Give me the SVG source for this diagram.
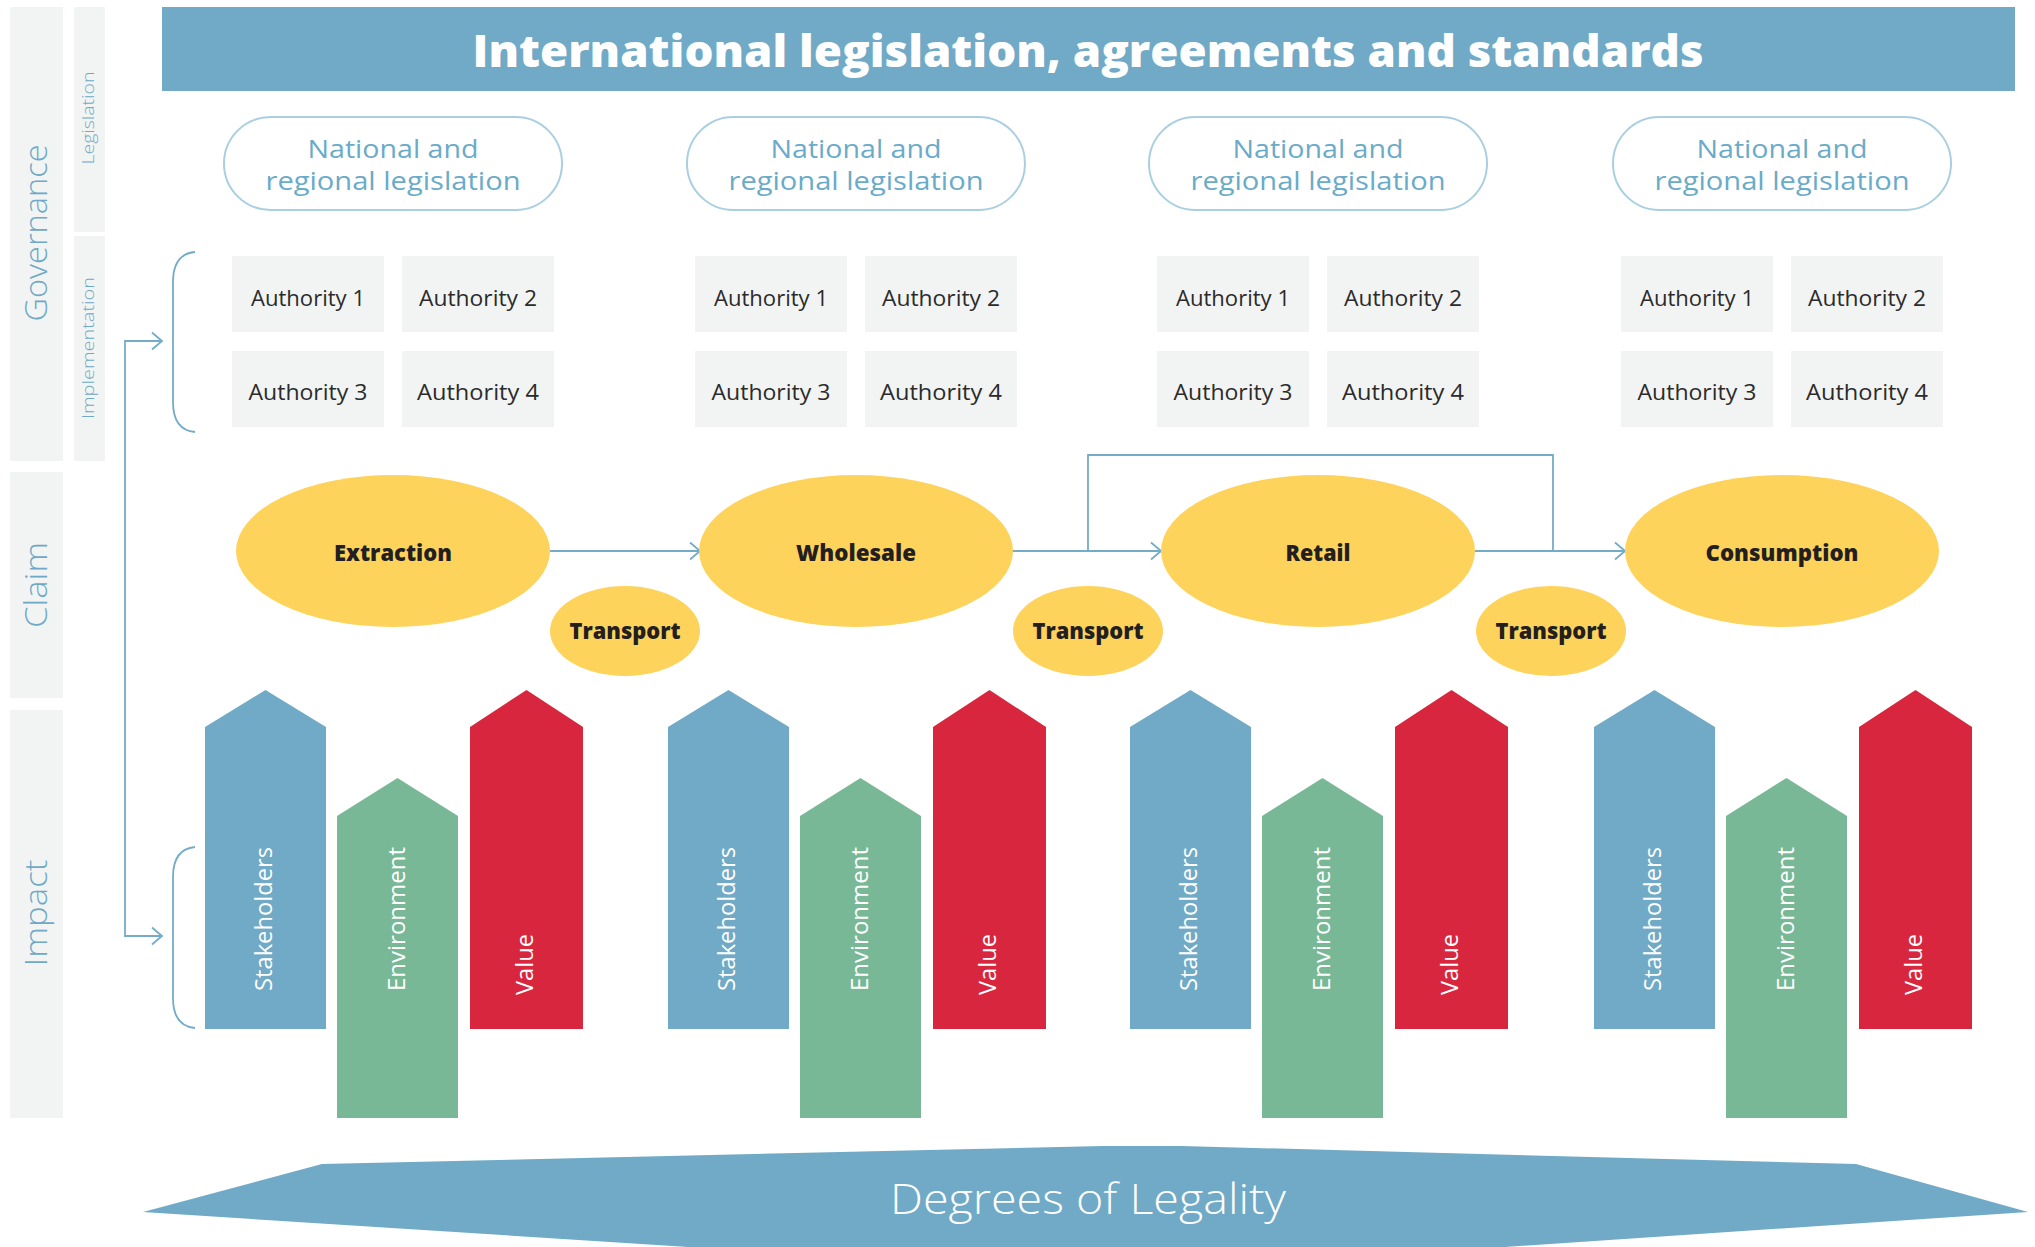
<svg xmlns="http://www.w3.org/2000/svg" width="2035" height="1247" viewBox="0 0 2035 1247">
  <defs>
    <style>
      .band { fill: #f2f4f3; }
      .band-label { font-family: "Open Sans", "Liberation Sans", sans-serif; font-weight: 300; fill: #6fa9c6; }
      .title { font-family: "Open Sans", "Liberation Sans", sans-serif; font-weight: 800; font-size: 44px; fill: #ffffff; }
      .pill { fill: #ffffff; stroke: #a9cfe1; stroke-width: 2; }
      .pill-text { font-family: "Open Sans", "Liberation Sans", sans-serif; font-size: 26px; fill: #6aabc9; text-anchor: middle; }
      .auth { fill: #f2f4f3; }
      .auth-text { font-family: "Open Sans", "Liberation Sans", sans-serif; font-size: 21px; fill: #2b2b2b; text-anchor: middle; }
      .stage { fill: #fed35b; }
      .stage-text { font-family: "Open Sans", "Liberation Sans", sans-serif; font-weight: 800; font-size: 22px; fill: #231f20; text-anchor: middle; }
      .link { fill: none; stroke: #74acc8; stroke-width: 1.8; }
      .stake { fill: #70aac6; }
      .env { fill: #78b896; }
      .value { fill: #d7263d; }
      .bar-text { font-family: "Open Sans", "Liberation Sans", sans-serif; font-size: 23px; fill: #ffffff; }
      .base { fill: #70aac6; }
      .base-text { font-family: "Open Sans", "Liberation Sans", sans-serif; font-weight: 300; font-size: 42px; fill: #ffffff; text-anchor: middle; }
    </style>
    <marker id="chev" markerUnits="userSpaceOnUse" markerWidth="14" markerHeight="20" viewBox="0 0 14 20" refX="11" refY="10" orient="auto">
      <path d="M1,1.5 L11,10 L1,18.5" fill="none" stroke="#74acc8" stroke-width="1.8"/>
    </marker>
  </defs>

  <rect width="2035" height="1247" fill="#ffffff"/>

  <!-- side bands -->
  <g id="band-governance">
    <rect class="band" x="10" y="7" width="53" height="454"/>
    <text class="band-label" font-size="32" text-anchor="middle" textLength="177" lengthAdjust="spacingAndGlyphs" transform="translate(47,233) rotate(-90)">Governance</text>
  </g>
  <g id="band-claim">
    <rect class="band" x="10" y="472" width="53" height="226"/>
    <text class="band-label" font-size="32" text-anchor="middle" textLength="86" lengthAdjust="spacingAndGlyphs" transform="translate(47,585) rotate(-90)">Claim</text>
  </g>
  <g id="band-impact">
    <rect class="band" x="10" y="710" width="53" height="408"/>
    <text class="band-label" font-size="32" text-anchor="middle" textLength="107" lengthAdjust="spacingAndGlyphs" transform="translate(47,913) rotate(-90)">Impact</text>
  </g>
  <g id="band-legislation">
    <rect class="band" x="74" y="7" width="31" height="225"/>
    <text class="band-label" font-size="17" text-anchor="middle" textLength="93" lengthAdjust="spacingAndGlyphs" transform="translate(94,118) rotate(-90)">Legislation</text>
  </g>
  <g id="band-implementation">
    <rect class="band" x="74" y="236" width="31" height="225"/>
    <text class="band-label" font-size="17" text-anchor="middle" textLength="142" lengthAdjust="spacingAndGlyphs" transform="translate(94,348) rotate(-90)">Implementation</text>
  </g>

  <!-- header -->
  <g id="international">
    <rect x="162" y="7" width="1853" height="84" fill="#70aac6"/>
    <text class="title" x="1088" y="67" text-anchor="middle" textLength="1231" lengthAdjust="spacingAndGlyphs">International legislation, agreements and standards</text>
  </g>

  <!-- national and regional legislation -->
  <g id="legislation-1">
    <rect class="pill" x="224" y="117" width="338" height="93" rx="46.5"/>
    <text class="pill-text" x="393" y="158" textLength="171" lengthAdjust="spacingAndGlyphs">National and</text>
    <text class="pill-text" x="393" y="190" textLength="255" lengthAdjust="spacingAndGlyphs">regional legislation</text>
  </g>
  <g id="legislation-2">
    <rect class="pill" x="687" y="117" width="338" height="93" rx="46.5"/>
    <text class="pill-text" x="856" y="158" textLength="171" lengthAdjust="spacingAndGlyphs">National and</text>
    <text class="pill-text" x="856" y="190" textLength="255" lengthAdjust="spacingAndGlyphs">regional legislation</text>
  </g>
  <g id="legislation-3">
    <rect class="pill" x="1149" y="117" width="338" height="93" rx="46.5"/>
    <text class="pill-text" x="1318" y="158" textLength="171" lengthAdjust="spacingAndGlyphs">National and</text>
    <text class="pill-text" x="1318" y="190" textLength="255" lengthAdjust="spacingAndGlyphs">regional legislation</text>
  </g>
  <g id="legislation-4">
    <rect class="pill" x="1613" y="117" width="338" height="93" rx="46.5"/>
    <text class="pill-text" x="1782" y="158" textLength="171" lengthAdjust="spacingAndGlyphs">National and</text>
    <text class="pill-text" x="1782" y="190" textLength="255" lengthAdjust="spacingAndGlyphs">regional legislation</text>
  </g>

  <!-- authorities -->
  <g id="authorities-1">
    <g id="a1-1"><rect class="auth" x="232" y="256" width="152" height="76"/><text class="auth-text" x="308" y="306" textLength="114" lengthAdjust="spacingAndGlyphs">Authority 1</text></g>
    <g id="a1-2"><rect class="auth" x="402" y="256" width="152" height="76"/><text class="auth-text" x="478" y="306" textLength="118" lengthAdjust="spacingAndGlyphs">Authority 2</text></g>
    <g id="a1-3"><rect class="auth" x="232" y="351" width="152" height="76"/><text class="auth-text" x="308" y="400" textLength="119" lengthAdjust="spacingAndGlyphs">Authority 3</text></g>
    <g id="a1-4"><rect class="auth" x="402" y="351" width="152" height="76"/><text class="auth-text" x="478" y="400" textLength="122" lengthAdjust="spacingAndGlyphs">Authority 4</text></g>
  </g>
  <g id="authorities-2">
    <g id="a2-1"><rect class="auth" x="695" y="256" width="152" height="76"/><text class="auth-text" x="771" y="306" textLength="114" lengthAdjust="spacingAndGlyphs">Authority 1</text></g>
    <g id="a2-2"><rect class="auth" x="865" y="256" width="152" height="76"/><text class="auth-text" x="941" y="306" textLength="118" lengthAdjust="spacingAndGlyphs">Authority 2</text></g>
    <g id="a2-3"><rect class="auth" x="695" y="351" width="152" height="76"/><text class="auth-text" x="771" y="400" textLength="119" lengthAdjust="spacingAndGlyphs">Authority 3</text></g>
    <g id="a2-4"><rect class="auth" x="865" y="351" width="152" height="76"/><text class="auth-text" x="941" y="400" textLength="122" lengthAdjust="spacingAndGlyphs">Authority 4</text></g>
  </g>
  <g id="authorities-3">
    <g id="a3-1"><rect class="auth" x="1157" y="256" width="152" height="76"/><text class="auth-text" x="1233" y="306" textLength="114" lengthAdjust="spacingAndGlyphs">Authority 1</text></g>
    <g id="a3-2"><rect class="auth" x="1327" y="256" width="152" height="76"/><text class="auth-text" x="1403" y="306" textLength="118" lengthAdjust="spacingAndGlyphs">Authority 2</text></g>
    <g id="a3-3"><rect class="auth" x="1157" y="351" width="152" height="76"/><text class="auth-text" x="1233" y="400" textLength="119" lengthAdjust="spacingAndGlyphs">Authority 3</text></g>
    <g id="a3-4"><rect class="auth" x="1327" y="351" width="152" height="76"/><text class="auth-text" x="1403" y="400" textLength="122" lengthAdjust="spacingAndGlyphs">Authority 4</text></g>
  </g>
  <g id="authorities-4">
    <g id="a4-1"><rect class="auth" x="1621" y="256" width="152" height="76"/><text class="auth-text" x="1697" y="306" textLength="114" lengthAdjust="spacingAndGlyphs">Authority 1</text></g>
    <g id="a4-2"><rect class="auth" x="1791" y="256" width="152" height="76"/><text class="auth-text" x="1867" y="306" textLength="118" lengthAdjust="spacingAndGlyphs">Authority 2</text></g>
    <g id="a4-3"><rect class="auth" x="1621" y="351" width="152" height="76"/><text class="auth-text" x="1697" y="400" textLength="119" lengthAdjust="spacingAndGlyphs">Authority 3</text></g>
    <g id="a4-4"><rect class="auth" x="1791" y="351" width="152" height="76"/><text class="auth-text" x="1867" y="400" textLength="122" lengthAdjust="spacingAndGlyphs">Authority 4</text></g>
  </g>

  <!-- connectors -->
  <g id="connectors">
    <path class="link" d="M195,252 Q173,254 173,282 V402 Q173,430 195,432"/>
    <path class="link" d="M195,847 Q173,849 173,877 V998 Q173,1026 195,1028"/>
    <path class="link" d="M125,640 V341 H162" marker-end="url(#chev)"/>
    <path class="link" d="M125,640 V936 H162" marker-end="url(#chev)"/>
    <path class="link" d="M550,551 H700" marker-end="url(#chev)"/>
    <path class="link" d="M1012,551 H1161" marker-end="url(#chev)"/>
    <path class="link" d="M1088,551 V455 H1553 V551"/>
    <path class="link" d="M1475,551 H1625" marker-end="url(#chev)"/>
  </g>

  <!-- supply chain stages -->
  <g id="extraction">
    <ellipse class="stage" cx="393" cy="551" rx="157" ry="76"/>
    <text class="stage-text" x="393" y="561" textLength="118" lengthAdjust="spacingAndGlyphs">Extraction</text>
  </g>
  <g id="wholesale">
    <ellipse class="stage" cx="856" cy="551" rx="157" ry="76"/>
    <text class="stage-text" x="856" y="561" textLength="120" lengthAdjust="spacingAndGlyphs">Wholesale</text>
  </g>
  <g id="retail">
    <ellipse class="stage" cx="1318" cy="551" rx="157" ry="76"/>
    <text class="stage-text" x="1318" y="561" textLength="65" lengthAdjust="spacingAndGlyphs">Retail</text>
  </g>
  <g id="consumption">
    <ellipse class="stage" cx="1782" cy="551" rx="157" ry="76"/>
    <text class="stage-text" x="1782" y="561" textLength="153" lengthAdjust="spacingAndGlyphs">Consumption</text>
  </g>
  <g id="transport-1">
    <ellipse class="stage" cx="625" cy="631" rx="75" ry="45"/>
    <text class="stage-text" x="625" y="639" textLength="111" lengthAdjust="spacingAndGlyphs">Transport</text>
  </g>
  <g id="transport-2">
    <ellipse class="stage" cx="1088" cy="631" rx="75" ry="45"/>
    <text class="stage-text" x="1088" y="639" textLength="111" lengthAdjust="spacingAndGlyphs">Transport</text>
  </g>
  <g id="transport-3">
    <ellipse class="stage" cx="1551" cy="631" rx="75" ry="45"/>
    <text class="stage-text" x="1551" y="639" textLength="111" lengthAdjust="spacingAndGlyphs">Transport</text>
  </g>

  <!-- impact bars -->
  <g id="impact-1">
    <g id="stakeholders-1"><polygon class="stake" points="205,727 265.5,690 326,727 326,1029 205,1029"/><text class="bar-text" textLength="144" lengthAdjust="spacingAndGlyphs" transform="translate(272,991) rotate(-90)">Stakeholders</text></g>
    <g id="environment-1"><polygon class="env" points="337,816 397.5,778 458,816 458,1118 337,1118"/><text class="bar-text" textLength="144" lengthAdjust="spacingAndGlyphs" transform="translate(405,991) rotate(-90)">Environment</text></g>
    <g id="value-1"><polygon class="value" points="470,727 526.5,690 583,727 583,1029 470,1029"/><text class="bar-text" textLength="61" lengthAdjust="spacingAndGlyphs" transform="translate(533,995) rotate(-90)">Value</text></g>
  </g>
  <g id="impact-2">
    <g id="stakeholders-2"><polygon class="stake" points="668,727 728.5,690 789,727 789,1029 668,1029"/><text class="bar-text" textLength="144" lengthAdjust="spacingAndGlyphs" transform="translate(735,991) rotate(-90)">Stakeholders</text></g>
    <g id="environment-2"><polygon class="env" points="800,816 860.5,778 921,816 921,1118 800,1118"/><text class="bar-text" textLength="144" lengthAdjust="spacingAndGlyphs" transform="translate(868,991) rotate(-90)">Environment</text></g>
    <g id="value-2"><polygon class="value" points="933,727 989.5,690 1046,727 1046,1029 933,1029"/><text class="bar-text" textLength="61" lengthAdjust="spacingAndGlyphs" transform="translate(996,995) rotate(-90)">Value</text></g>
  </g>
  <g id="impact-3">
    <g id="stakeholders-3"><polygon class="stake" points="1130,727 1190.5,690 1251,727 1251,1029 1130,1029"/><text class="bar-text" textLength="144" lengthAdjust="spacingAndGlyphs" transform="translate(1197,991) rotate(-90)">Stakeholders</text></g>
    <g id="environment-3"><polygon class="env" points="1262,816 1322.5,778 1383,816 1383,1118 1262,1118"/><text class="bar-text" textLength="144" lengthAdjust="spacingAndGlyphs" transform="translate(1330,991) rotate(-90)">Environment</text></g>
    <g id="value-3"><polygon class="value" points="1395,727 1451.5,690 1508,727 1508,1029 1395,1029"/><text class="bar-text" textLength="61" lengthAdjust="spacingAndGlyphs" transform="translate(1458,995) rotate(-90)">Value</text></g>
  </g>
  <g id="impact-4">
    <g id="stakeholders-4"><polygon class="stake" points="1594,727 1654.5,690 1715,727 1715,1029 1594,1029"/><text class="bar-text" textLength="144" lengthAdjust="spacingAndGlyphs" transform="translate(1661,991) rotate(-90)">Stakeholders</text></g>
    <g id="environment-4"><polygon class="env" points="1726,816 1786.5,778 1847,816 1847,1118 1726,1118"/><text class="bar-text" textLength="144" lengthAdjust="spacingAndGlyphs" transform="translate(1794,991) rotate(-90)">Environment</text></g>
    <g id="value-4"><polygon class="value" points="1859,727 1915.5,690 1972,727 1972,1029 1859,1029"/><text class="bar-text" textLength="61" lengthAdjust="spacingAndGlyphs" transform="translate(1922,995) rotate(-90)">Value</text></g>
  </g>

  <!-- base -->
  <g id="degrees-of-legality">
    <polygon class="base" points="143,1212 322,1164 1103,1146 1181,1146 1856,1164 2028,1212 1505,1247 688,1247"/>
    <text class="base-text" x="1088" y="1214" textLength="396" lengthAdjust="spacingAndGlyphs">Degrees of Legality</text>
  </g>
</svg>
